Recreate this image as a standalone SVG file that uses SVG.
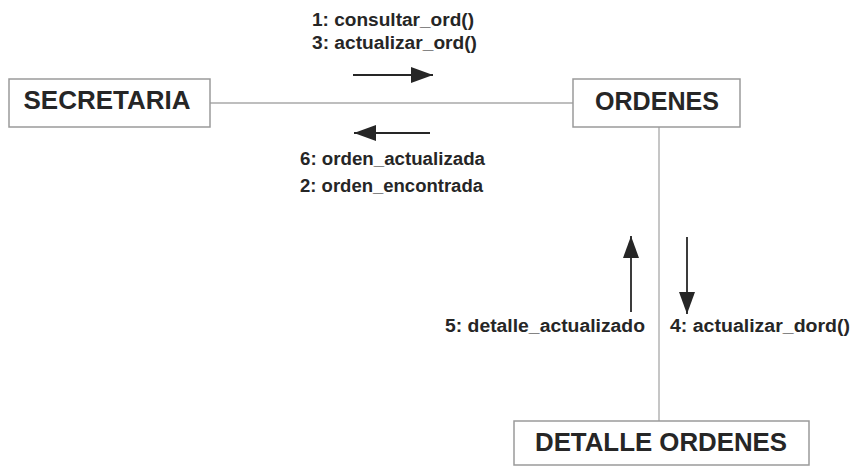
<svg xmlns="http://www.w3.org/2000/svg" width="857" height="466" viewBox="0 0 857 466">
  <style>
    .box { fill: #ffffff; stroke: #9a9a9a; stroke-width: 1.5; }
    .name { font-family: "Liberation Sans", Arial, sans-serif; font-weight: bold; font-size: 25px; fill: #262626; text-anchor: middle; }
    .link { stroke: #a8a8a8; stroke-width: 1.3; fill: none; }
    .msg { stroke: #262626; stroke-width: 1.8; fill: none; marker-end: url(#head); }
    .lbl { font-family: "Liberation Sans", Arial, sans-serif; font-weight: bold; font-size: 17.5px; fill: #262626; }
  </style>
  <defs>
    <marker id="head" markerUnits="userSpaceOnUse" markerWidth="24" markerHeight="18" refX="22" refY="8" orient="auto">
      <polygon points="0,0 22,8 0,16" fill="#262626"/>
    </marker>
  </defs>
  <rect width="857" height="466" fill="#ffffff"/>

  <!-- links between objects -->
  <g id="connectors">
    <line class="link" x1="210" y1="103" x2="573" y2="103"/>
    <line class="link" x1="659" y1="127" x2="659" y2="421"/>
    <!-- message arrows -->
    <line class="msg" x1="353" y1="75" x2="433" y2="75"/>
    <line class="msg" x1="430" y1="133" x2="354" y2="133"/>
    <line class="msg" x1="631" y1="312" x2="631" y2="236"/>
    <line class="msg" x1="687" y1="237" x2="687" y2="314"/>
  </g>

  <!-- message labels -->
  <g id="labels">
    <text class="lbl" x="312" y="26" textLength="162" lengthAdjust="spacingAndGlyphs">1: consultar_ord()</text>
    <text class="lbl" x="312" y="49" textLength="165" lengthAdjust="spacingAndGlyphs">3: actualizar_ord()</text>
    <text class="lbl" x="300" y="165" textLength="185" lengthAdjust="spacingAndGlyphs">6: orden_actualizada</text>
    <text class="lbl" x="300" y="192" textLength="183" lengthAdjust="spacingAndGlyphs">2: orden_encontrada</text>
    <text class="lbl" x="445" y="332" textLength="200" lengthAdjust="spacingAndGlyphs">5: detalle_actualizado</text>
    <text class="lbl" x="670" y="332" textLength="180" lengthAdjust="spacingAndGlyphs">4: actualizar_dord()</text>
  </g>

  <g id="secretaria">
    <rect class="box" x="9" y="79" width="201" height="48"/>
    <text class="name" x="107" y="109" textLength="167" lengthAdjust="spacingAndGlyphs">SECRETARIA</text>
  </g>

  <g id="ordenes">
    <rect class="box" x="573" y="79" width="167" height="48"/>
    <text class="name" x="657" y="110" textLength="124" lengthAdjust="spacingAndGlyphs">ORDENES</text>
  </g>

  <g id="detalle-ordenes">
    <rect class="box" x="514" y="421" width="295" height="44"/>
    <text class="name" x="661" y="451" textLength="252" lengthAdjust="spacingAndGlyphs">DETALLE ORDENES</text>
  </g>
</svg>
